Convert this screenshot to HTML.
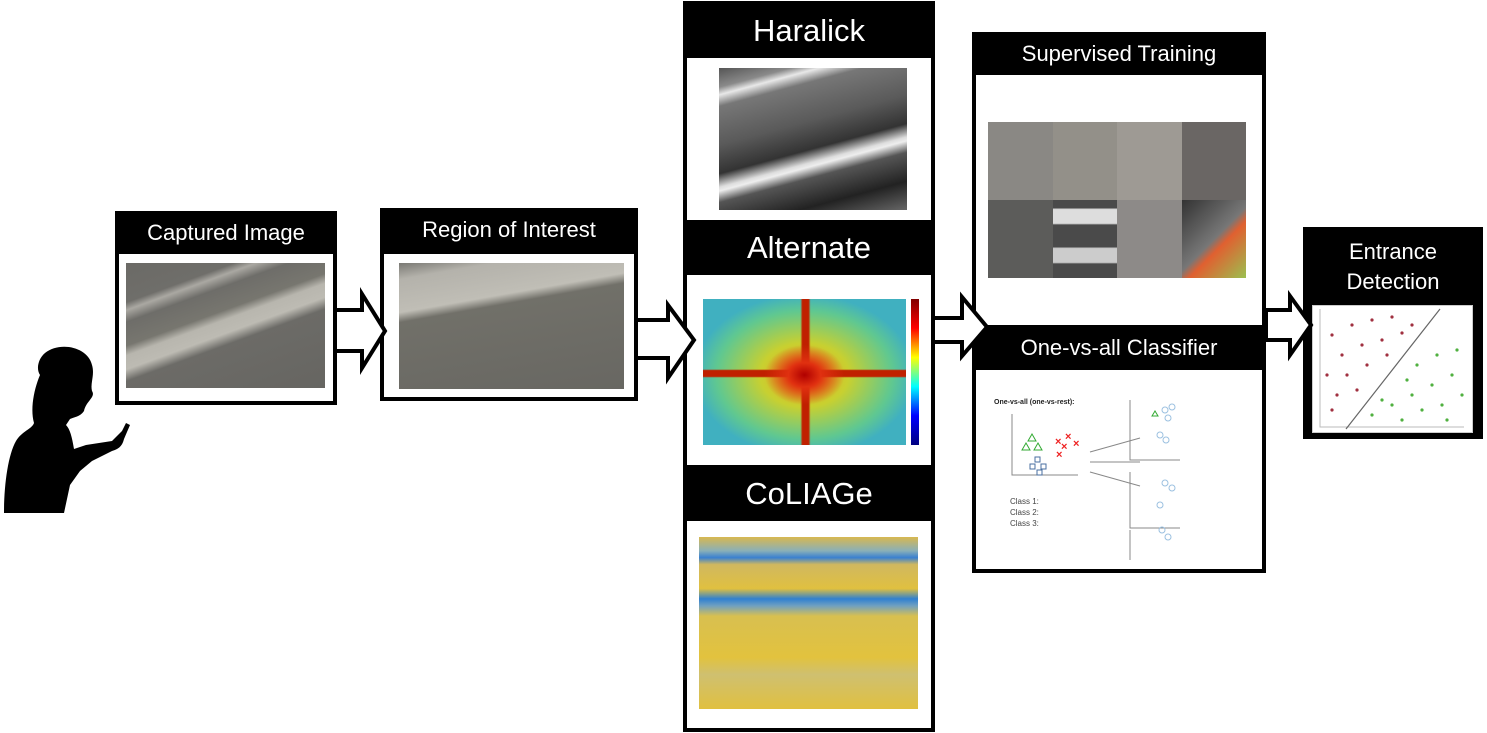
<!DOCTYPE html>
<html><head><meta charset="utf-8"><style>
body{margin:0;width:1487px;height:733px;background:#fff;position:relative;overflow:hidden;font-family:"Liberation Sans",Arial,sans-serif}
.a{position:absolute;box-sizing:border-box}
.h{background:#000;color:#fff;text-align:center}
.b{border:4px solid #000;background:#fff}
</style></head><body>

<!-- person -->
<svg class="a" style="left:0;top:345px" width="140" height="170" viewBox="0 0 140 170">
<path fill="#000" d="M45 8 C60 -4 88 2 92 20 C95 30 90 38 92 46 C96 52 86 56 84 66 C80 72 74 72 70 74 L66 80 C70 84 72 92 74 104 L86 100 L112 96 L122 86 L126 78 L130 80 L124 94 C122 102 118 104 112 106 L92 116 L80 126 L70 140 L64 168 L4 168 C4 140 8 110 16 96 C22 86 32 84 34 78 C30 64 34 44 40 30 C36 24 38 14 45 8 Z"/>
</svg>

<!-- Captured image -->
<div class="a h" style="left:115px;top:211px;width:222px;height:60px;font-size:22px;line-height:44px">Captured Image</div>
<div class="a b" style="left:115px;top:250px;width:222px;height:155px"></div>
<div class="a" style="left:126px;top:263px;width:199px;height:125px;background:linear-gradient(160deg,#6b6a66 0%,#6f6e6a 20%,#aaa8a2 24%,#6e6d69 30%,#77766f 42%,#b8b6ae 47%,#bdbbb3 54%,#6c6b67 60%,#666561 100%)"></div>

<!-- ROI -->
<div class="a h" style="left:380px;top:208px;width:258px;height:50px;font-size:22px;line-height:44px">Region of Interest</div>
<div class="a b" style="left:380px;top:250px;width:258px;height:151px"></div>
<div class="a" style="left:399px;top:263px;width:225px;height:126px;background:linear-gradient(170deg,#7a7974 0%,#b4b2ab 10%,#c0beb6 30%,#717069 36%,#686762 100%)"></div>

<!-- middle column -->
<div class="a b" style="left:683px;top:1px;width:252px;height:731px"></div>
<div class="a h" style="left:683px;top:1px;width:252px;height:57px;font-size:31px;line-height:60px">Haralick</div>
<div class="a" style="left:719px;top:68px;width:188px;height:142px;background:linear-gradient(165deg,#555 0%,#8a8a8a 10%,#e8e8e8 14%,#777 20%,#5a5a5a 40%,#333 55%,#ddd 62%,#eee 64%,#555 70%,#222 85%,#666 100%)"></div>
<div class="a h" style="left:683px;top:220px;width:252px;height:55px;font-size:31px;line-height:56px">Alternate</div>
<div class="a" style="left:703px;top:299px;width:203px;height:146px;background:radial-gradient(ellipse 40px 30px at 50% 52%,#b00000 0%,#e03010 40%,rgba(240,200,0,.0) 100%),linear-gradient(#0000 48%,#c02000 49%,#c02000 53%,#0000 54%),linear-gradient(90deg,#0000 48%,#c02000 49%,#c02000 52%,#0000 53%),radial-gradient(ellipse 110px 80px at 50% 52%,#f0a020 0%,#c8d030 40%,#60c890 80%,#40b0c0 100%)"></div>
<div class="a" style="left:911px;top:299px;width:8px;height:146px;background:linear-gradient(#800000,#f00,#ff0,#0ff,#00f,#000080)"></div>
<div class="a h" style="left:683px;top:465px;width:252px;height:56px;font-size:31px;line-height:58px">CoLIAGe</div>
<div class="a" style="left:699px;top:537px;width:219px;height:172px;background:linear-gradient(#d8b850 0%,#8ab0b8 8%,#3a80d0 12%,#d0b860 16%,#e0c040 30%,#3080d0 36%,#70a0c0 40%,#d8c050 46%,#e2c23e 70%,#cfc070 80%,#e0c040 100%)"></div>

<!-- right column -->
<div class="a b" style="left:972px;top:32px;width:294px;height:541px"></div>
<div class="a h" style="left:972px;top:32px;width:294px;height:43px;font-size:22px;line-height:44px">Supervised Training</div>
<div class="a" style="left:988px;top:122px;width:258px;height:156px;display:grid;grid-template-columns:repeat(4,1fr);grid-template-rows:1fr 1fr">
<div style="background:#8a8884"></div><div style="background:#939089"></div><div style="background:#9e9a94"></div><div style="background:#6a6664"></div>
<div style="background:#5c5c5a"></div><div style="background:linear-gradient(#4a4a4a 10%,#ddd 12%,#ddd 30%,#4a4a4a 32%,#4a4a4a 60%,#ccc 62%,#ccc 80%,#4a4a4a 82%)"></div><div style="background:#8d8a88"></div><div style="background:linear-gradient(135deg,#333,#777 50%,#e06030 60%,#9bc050)"></div>
</div>
<div class="a h" style="left:972px;top:325px;width:294px;height:45px;font-size:22px;line-height:46px">One-vs-all Classifier</div>
<svg class="a" style="left:990px;top:380px" width="260" height="180" font-family="Liberation Sans,sans-serif">
<text x="4" y="24" font-size="7" font-weight="bold" fill="#222">One-vs-all (one-vs-rest):</text>
<g stroke="#888" fill="none"><path d="M22 34 V95 H88"/><path d="M140 20 V80 H190"/><path d="M140 92 V148 H190"/><path d="M140 150 V200"/><path d="M100 72 L150 58 M100 82 L150 82 M100 92 L150 106"/></g>
<g stroke="#3a3" fill="none"><path d="M38 61 l4 -7 4 7z M32 70 l4 -7 4 7z M44 70 l4 -7 4 7z M162 36 l3-5 3 5z"/></g>
<g stroke="#4a6fa0" fill="none"><rect x="45" y="77" width="5" height="5"/><rect x="40" y="84" width="5" height="5"/><rect x="51" y="84" width="5" height="5"/><rect x="47" y="90" width="5" height="5"/></g>
<g fill="#e22" font-size="11" font-weight="bold"><text x="65" y="65">×</text><text x="75" y="60">×</text><text x="71" y="70">×</text><text x="83" y="67">×</text><text x="66" y="78">×</text></g>
<g stroke="#9bc0e0" fill="none"><circle cx="175" cy="30" r="3"/><circle cx="182" cy="27" r="3"/><circle cx="178" cy="38" r="3"/><circle cx="170" cy="55" r="3"/><circle cx="176" cy="60" r="3"/><circle cx="175" cy="103" r="3"/><circle cx="182" cy="108" r="3"/><circle cx="170" cy="125" r="3"/><circle cx="172" cy="150" r="3"/><circle cx="178" cy="157" r="3"/></g>
<text x="20" y="124" font-size="8" fill="#444">Class 1:</text><text x="20" y="135" font-size="8" fill="#444">Class 2:</text><text x="20" y="146" font-size="8" fill="#444">Class 3:</text>
</svg>

<!-- entrance -->
<div class="a h" style="left:1303px;top:227px;width:180px;height:76px;font-size:22px;line-height:30px;padding-top:10px">Entrance<br>Detection</div>
<div class="a" style="left:1303px;top:297px;width:180px;height:142px;background:#000"></div>
<div class="a" style="left:1312px;top:305px;width:161px;height:128px;background:#fff;border:1px solid #ccc"></div>
<svg class="a" style="left:1312px;top:305px" width="161" height="128">
<path d="M8 4 V122 H152" stroke="#bbb" fill="none"/>
<line x1="34" y1="124" x2="128" y2="4" stroke="#666" stroke-width="1.2"/>
<g fill="#a03040"><circle cx="20" cy="30" r="1.6"/><circle cx="40" cy="20" r="1.6"/><circle cx="60" cy="15" r="1.6"/><circle cx="80" cy="12" r="1.6"/><circle cx="30" cy="50" r="1.6"/><circle cx="50" cy="40" r="1.6"/><circle cx="70" cy="35" r="1.6"/><circle cx="90" cy="28" r="1.6"/><circle cx="15" cy="70" r="1.6"/><circle cx="35" cy="70" r="1.6"/><circle cx="55" cy="60" r="1.6"/><circle cx="75" cy="50" r="1.6"/><circle cx="25" cy="90" r="1.6"/><circle cx="45" cy="85" r="1.6"/><circle cx="20" cy="105" r="1.6"/><circle cx="100" cy="20" r="1.6"/></g>
<g fill="#50b040"><circle cx="80" cy="100" r="1.6"/><circle cx="100" cy="90" r="1.6"/><circle cx="120" cy="80" r="1.6"/><circle cx="140" cy="70" r="1.6"/><circle cx="60" cy="110" r="1.6"/><circle cx="90" cy="115" r="1.6"/><circle cx="110" cy="105" r="1.6"/><circle cx="130" cy="100" r="1.6"/><circle cx="150" cy="90" r="1.6"/><circle cx="105" cy="60" r="1.6"/><circle cx="125" cy="50" r="1.6"/><circle cx="145" cy="45" r="1.6"/><circle cx="95" cy="75" r="1.6"/><circle cx="70" cy="95" r="1.6"/><circle cx="135" cy="115" r="1.6"/></g>
</svg>

<!-- arrows on top -->
<svg class="a" style="left:0;top:0" width="1487" height="733">
<g fill="#fff" stroke="#000" stroke-width="4" stroke-linejoin="miter">
<path d="M335 310 L362 310 L362 294 L385 331 L362 368 L362 351 L335 351 Z"/>
<path d="M636 320 L668 320 L668 305 L694 340 L668 378 L668 358 L636 358 Z"/>
<path d="M933 318 L962 318 L962 297 L987 327 L962 356 L962 342 L933 342 Z"/>
<path d="M1266 310 L1290 310 L1290 296 L1311 325 L1290 355 L1290 340 L1266 340 Z"/>
</g></svg>
</body></html>
